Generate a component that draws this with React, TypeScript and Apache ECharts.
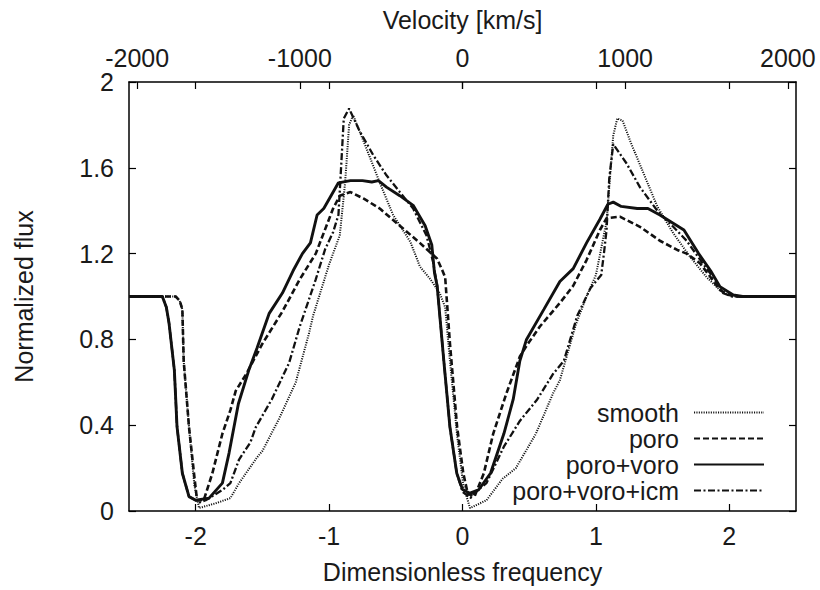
import { useEffect, useRef } from 'react';
import * as echarts from 'echarts';

// ---- data ----
const seriesNames = ['smooth', 'poro', 'poro+voro', 'poro+voro+icm'];

const freqTicks = [-2, -1, 0, 1, 2];
const velocityTicks = [-2000, -1000, 0, 1000, 2000];
const fluxTicks = [0, 0.4, 0.8, 1.2, 1.6, 2];
const freqRange = [-2.5, 2.5];
const velocityPerUnit = 820; // km/s per unit of dimensionless frequency

const smoothData: [number, number][] = [
  [-2.5, 1], [-2.15, 1], [-2.12, 0.98], [-2.1, 0.94], [-2.09, 0.7], [-2.05, 0.39], [-2.01, 0.12],
  [-1.975, 0.014], [-1.85, 0.036], [-1.74, 0.06], [-1.675, 0.13], [-1.54, 0.25], [-1.5, 0.28],
  [-1.375, 0.43], [-1.25, 0.6], [-1.15, 0.83], [-1.12, 0.91], [-1.05, 1.05], [-1.0, 1.15],
  [-0.92, 1.285], [-0.88, 1.53], [-0.85, 1.8], [-0.82, 1.845], [-0.72, 1.69], [-0.62, 1.53],
  [-0.52, 1.38], [-0.39, 1.254], [-0.32, 1.14], [-0.24, 1.08], [-0.17, 1.015], [-0.13, 0.95],
  [-0.094, 0.7], [-0.04, 0.35], [0.006, 0.12], [0.056, 0.014], [0.18, 0.05], [0.3, 0.15],
  [0.4, 0.2], [0.55, 0.36], [0.68, 0.55], [0.73, 0.61], [0.85, 0.87], [0.93, 1.0], [1.0, 1.1],
  [1.08, 1.35], [1.13, 1.75], [1.16, 1.83], [1.2, 1.82], [1.26, 1.72], [1.36, 1.57], [1.46, 1.42],
  [1.58, 1.295], [1.705, 1.186], [1.83, 1.09], [1.93, 1.03], [1.99, 1.007], [2.05, 1], [2.5, 1],
];

const poroData: [number, number][] = [
  [-2.5, 1], [-2.15, 1], [-2.12, 0.98], [-2.1, 0.94], [-2.09, 0.7], [-2.05, 0.39], [-2.01, 0.16],
  [-1.99, 0.05], [-1.94, 0.05], [-1.875, 0.176], [-1.8, 0.36], [-1.74, 0.47], [-1.7, 0.56],
  [-1.62, 0.64], [-1.5, 0.78], [-1.35, 0.93], [-1.22, 1.08], [-1.1, 1.2], [-0.97, 1.41],
  [-0.92, 1.47], [-0.84, 1.487], [-0.74, 1.456], [-0.62, 1.41], [-0.47, 1.33], [-0.32, 1.25],
  [-0.19, 1.176], [-0.15, 1.12], [-0.13, 1.09], [-0.094, 0.78], [-0.04, 0.39], [0.006, 0.176],
  [0.04, 0.08], [0.09, 0.067], [0.16, 0.176], [0.23, 0.36], [0.33, 0.55], [0.43, 0.72],
  [0.48, 0.77], [0.58, 0.86], [0.73, 0.97], [0.83, 1.05], [0.93, 1.17], [1.03, 1.31],
  [1.08, 1.365], [1.18, 1.372], [1.33, 1.325], [1.48, 1.26], [1.61, 1.217], [1.68, 1.2],
  [1.78, 1.155], [1.86, 1.09], [1.93, 1.03], [2.0, 1.007], [2.08, 1], [2.5, 1],
];

const poroVoroData: [number, number][] = [
  [-2.5, 1], [-2.25, 1], [-2.22, 0.95], [-2.2, 0.876], [-2.16, 0.657], [-2.14, 0.393],
  [-2.1, 0.176], [-2.05, 0.067], [-2.0, 0.05], [-1.9, 0.06], [-1.8, 0.13], [-1.75, 0.27],
  [-1.68, 0.5], [-1.6, 0.66], [-1.54, 0.76], [-1.45, 0.92], [-1.35, 1.016], [-1.27, 1.12],
  [-1.2, 1.2], [-1.14, 1.25], [-1.09, 1.38], [-1.04, 1.41], [-0.93, 1.53], [-0.84, 1.54],
  [-0.75, 1.54], [-0.68, 1.534], [-0.63, 1.54], [-0.57, 1.51], [-0.47, 1.47], [-0.37, 1.425],
  [-0.28, 1.33], [-0.23, 1.24], [-0.21, 1.11], [-0.19, 1.05], [-0.14, 0.7], [-0.094, 0.39],
  [-0.043, 0.176], [0.0, 0.1], [0.056, 0.083], [0.12, 0.098], [0.21, 0.176], [0.31, 0.36],
  [0.38, 0.52], [0.43, 0.7], [0.48, 0.8], [0.61, 0.94], [0.73, 1.07], [0.83, 1.13], [0.93, 1.25],
  [1.03, 1.36], [1.09, 1.43], [1.13, 1.44], [1.19, 1.42], [1.31, 1.41], [1.39, 1.41],
  [1.48, 1.38], [1.66, 1.31], [1.77, 1.2], [1.86, 1.12], [1.93, 1.046], [2.03, 1.007],
  [2.1, 1], [2.5, 1],
];

const poroVoroIcmData: [number, number][] = [
  [-2.5, 1], [-2.25, 1], [-2.22, 0.95], [-2.2, 0.876], [-2.16, 0.657], [-2.14, 0.393],
  [-2.1, 0.176], [-2.05, 0.067], [-1.97, 0.04], [-1.925, 0.05], [-1.8, 0.098], [-1.74, 0.13],
  [-1.675, 0.24], [-1.59, 0.32], [-1.55, 0.39], [-1.43, 0.52], [-1.3, 0.69], [-1.22, 0.86],
  [-1.1, 1.08], [-1.03, 1.22], [-0.97, 1.3], [-0.93, 1.38], [-0.92, 1.49], [-0.89, 1.83],
  [-0.85, 1.876], [-0.77, 1.77], [-0.67, 1.66], [-0.57, 1.565], [-0.47, 1.487], [-0.37, 1.41],
  [-0.27, 1.285], [-0.22, 1.16], [-0.19, 1.05], [-0.14, 0.7], [-0.094, 0.39], [-0.043, 0.176],
  [0.0, 0.09], [0.06, 0.06], [0.08, 0.08], [0.18, 0.13], [0.31, 0.3], [0.43, 0.42],
  [0.56, 0.52], [0.68, 0.64], [0.76, 0.7], [0.86, 0.91], [0.96, 1.04], [1.04, 1.1],
  [1.06, 1.2], [1.08, 1.31], [1.1, 1.55], [1.13, 1.71], [1.23, 1.62], [1.33, 1.51],
  [1.46, 1.4], [1.58, 1.325], [1.68, 1.26], [1.8, 1.155], [1.88, 1.09], [1.955, 1.015],
  [2.02, 1], [2.5, 1],
];

const seriesData = [smoothData, poroData, poroVoroData, poroVoroIcmData];

// ---- styles ----
const FONT = '"Liberation Sans", Arial, Helvetica, sans-serif';
const TEXT = '#1a1a1a';
const LINE = '#111';
const lineStyles = [
  { width: 2, type: [1.1, 1.3] },
  { width: 2.6, type: [6, 3] },
  { width: 2.9, type: 'solid' },
  { width: 2.3, type: [7, 2.5, 2, 2.5] },
];

export default function App() {
  const ref = useRef<HTMLDivElement>(null);
  useEffect(() => {
    if (!ref.current) return;
    const chart = echarts.init(ref.current, undefined, { renderer: 'svg' });
    const axisLine = { onZero: false, lineStyle: { color: '#000', width: 1.5 } };
    const tickStyle = { color: '#000', width: 1.2 };
    const labelStyle = { fontSize: 25, color: TEXT, fontFamily: FONT };
    const nameStyle = { fontSize: 25, color: TEXT, fontFamily: FONT };
    chart.setOption({
      animation: false,
      backgroundColor: '#fff',
      grid: { left: 129, right: 24, top: 82, bottom: 79, containLabel: false },
      legend: {
        orient: 'vertical',
        right: 55,
        top: 400,
        align: 'right',
        itemWidth: 70,
        itemHeight: 14,
        itemGap: 1,
        padding: 0,
        selectedMode: false,
        data: seriesNames,
        itemStyle: { opacity: 0, color: 'transparent', borderWidth: 0 },
        textStyle: { ...labelStyle, padding: [0, 10, 0, 0] },
      },
      xAxis: [
        {
          type: 'value',
          position: 'bottom',
          min: freqRange[0],
          max: freqRange[1],
          name: 'Dimensionless frequency',
          nameLocation: 'middle',
          nameGap: 48,
          nameTextStyle: nameStyle,
          axisLine,
          axisTick: { inside: true, length: 7, customValues: freqTicks, lineStyle: tickStyle },
          axisLabel: { ...labelStyle, margin: 12, customValues: freqTicks, formatter: (v: number) => String(v) },
          splitLine: { show: false },
        },
        {
          type: 'value',
          position: 'top',
          min: freqRange[0] * velocityPerUnit,
          max: freqRange[1] * velocityPerUnit,
          name: 'Velocity [km/s]',
          nameLocation: 'middle',
          nameGap: 50,
          nameTextStyle: nameStyle,
          axisLine,
          axisTick: {
            inside: true,
            length: 7,
            customValues: [...velocityTicks, ...freqTicks.map((f) => f * velocityPerUnit)],
            lineStyle: tickStyle,
          },
          axisLabel: { ...labelStyle, margin: 12, customValues: velocityTicks, formatter: (v: number) => String(v) },
          splitLine: { show: false },
        },
      ],
      yAxis: [
        {
          type: 'value',
          position: 'left',
          min: fluxTicks[0],
          max: fluxTicks[fluxTicks.length - 1],
          interval: 0.4,
          name: 'Normalized flux',
          nameLocation: 'middle',
          nameGap: 93,
          nameTextStyle: nameStyle,
          axisLine,
          axisTick: { inside: true, length: 7, lineStyle: tickStyle },
          axisLabel: { ...labelStyle, margin: 15, formatter: (v: number) => String(Math.round(v * 10) / 10) },
          splitLine: { show: false },
        },
        {
          type: 'value',
          position: 'right',
          min: fluxTicks[0],
          max: fluxTicks[fluxTicks.length - 1],
          interval: 0.4,
          axisLine,
          axisTick: { inside: true, length: 7, lineStyle: tickStyle },
          axisLabel: { show: false },
          splitLine: { show: false },
        },
      ],
      series: seriesNames.map((name, i) => ({
        name,
        type: 'line',
        xAxisIndex: 0,
        yAxisIndex: 0,
        data: seriesData[i],
        symbol: 'none',
        showSymbol: false,
        smooth: false,
        color: LINE,
        lineStyle: { color: LINE, ...lineStyles[i] },
        emphasis: { disabled: true },
        z: 2 + i,
      })),
    });
    return () => chart.dispose();
  }, []);
  return <div ref={ref} style={{ position: 'absolute', left: 0, top: 0, width: 820, height: 590 }} />;
}
